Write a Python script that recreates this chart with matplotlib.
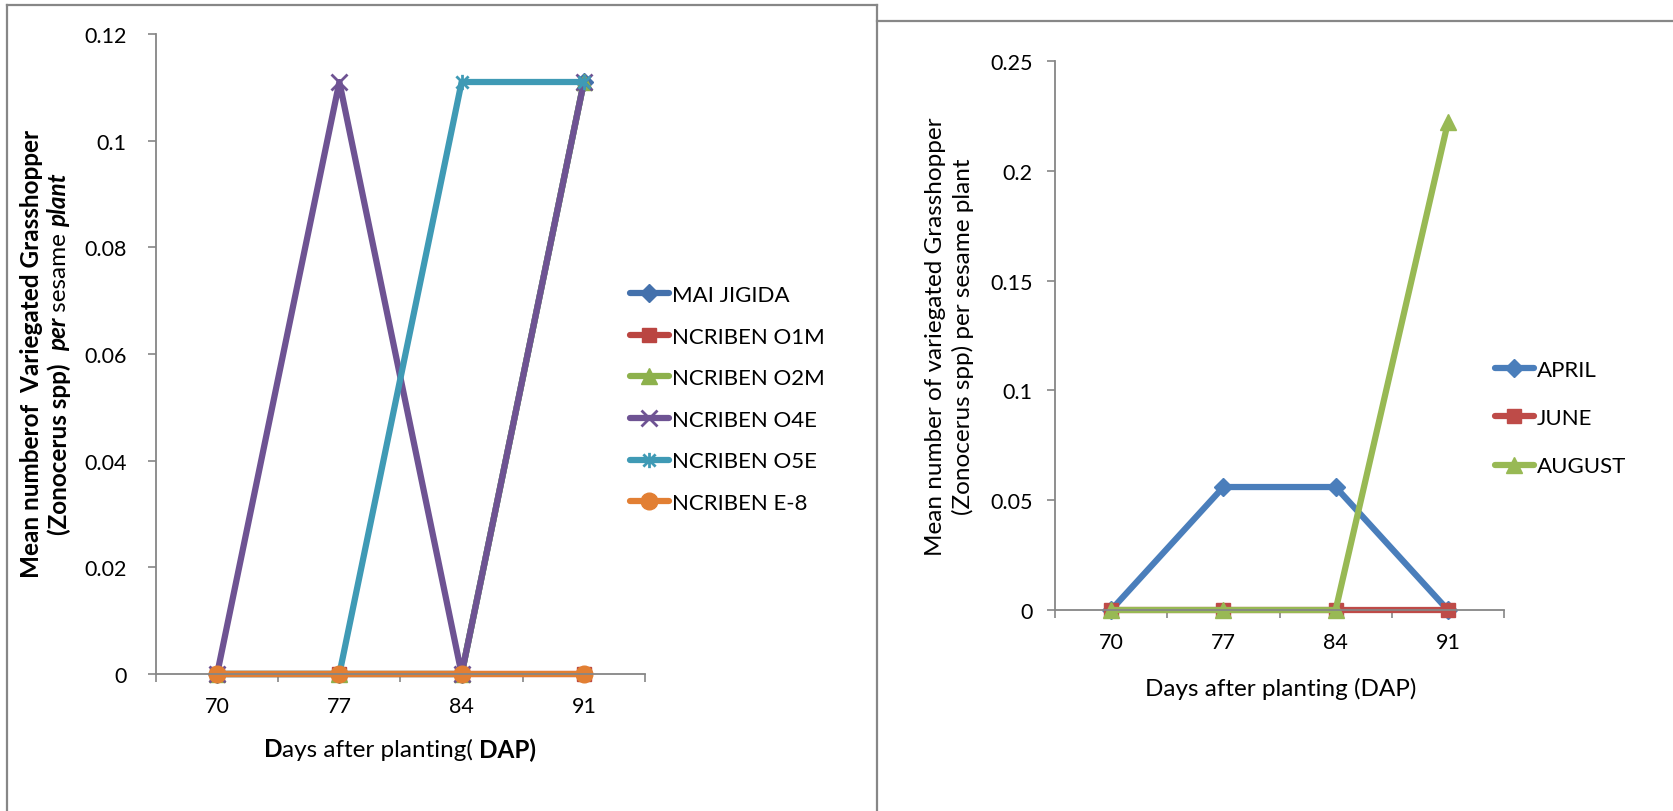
import matplotlib
matplotlib.use("Agg")
import matplotlib.pyplot as plt
from matplotlib.path import Path
from matplotlib.lines import Line2D
from matplotlib.font_manager import FontProperties

# ---- data ----
days = ["70", "77", "84", "91"]

left_names = ["MAI JIGIDA", "NCRIBEN O1M", "NCRIBEN O2M",
              "NCRIBEN O4E", "NCRIBEN O5E", "NCRIBEN E-8"]
mai_jigida = [0, 0, 0, 0.111]
ncriben_o1m = [0, 0, 0, 0]
ncriben_o2m = [0, 0, 0, 0.111]
ncriben_o4e = [0, 0.111, 0, 0.111]
ncriben_o5e = [0, 0, 0.111, 0.111]
ncriben_e8 = [0, 0, 0, 0]

right_names = ["APRIL", "JUNE", "AUGUST"]
april = [0, 0.056, 0.056, 0]
june = [0, 0, 0, 0]
august = [0, 0, 0, 0.222]

left_yticks = [0, 0.02, 0.04, 0.06, 0.08, 0.1, 0.12]
left_yticklabels = ["0", "0.02", "0.04", "0.06", "0.08", "0.1", "0.12"]
right_yticks = [0, 0.05, 0.1, 0.15, 0.2, 0.25]
right_yticklabels = ["0", "0.05", "0.1", "0.15", "0.2", "0.25"]

# ---- style ----
FONT = "Lato"
TICK_FS = 15.5
LEG_FS = 16
TITLE_FS = 17.5
plt.rcParams["font.family"] = [FONT, "DejaVu Sans"]
AXIS_GREY = "#868686"
FRAME_GREY = "#878787"

W, H = 1674, 812
fig = plt.figure(figsize=(W / 100, H / 100), dpi=100)
fig.patch.set_facecolor("white")

# asterisk marker: an X crossed by a vertical stroke
star_path = Path(
    [(-1, -1), (1, 1), (-1, 1), (1, -1), (0, -1.25), (0, 1.25)],
    [Path.MOVETO, Path.LINETO, Path.MOVETO, Path.LINETO, Path.MOVETO, Path.LINETO],
)


def px_box(x0, y0, x1, y1):
    """Figure-fraction rect from pixel box (top-left origin)."""
    return [x0 / W, 1 - y1 / H, (x1 - x0) / W, (y1 - y0) / H]


def style_axes(ax, ymax, yticks, yticklabels, ypad):
    n = len(days)
    ax.set_xlim(-0.5, n - 0.5)
    ax.set_ylim(0, ymax)
    for s in ("top", "right"):
        ax.spines[s].set_visible(False)
    for s in ("left", "bottom"):
        ax.spines[s].set_color(AXIS_GREY)
        ax.spines[s].set_linewidth(1.3)
    ax.set_yticks(yticks)
    ax.set_yticklabels(yticklabels)
    ax.tick_params(axis="y", direction="out", length=6, width=1.2,
                   color=AXIS_GREY, labelsize=TICK_FS, pad=ypad)
    # boundary ticks between categories, labels centred on categories
    ax.set_xticks([i - 0.5 for i in range(n + 1)])
    ax.set_xticklabels([""] * (n + 1))
    ax.set_xticks(range(n), minor=True)
    ax.set_xticklabels(days, minor=True)
    ax.tick_params(axis="x", which="major", direction="out", length=6,
                   width=1.2, color=AXIS_GREY)
    ax.tick_params(axis="x", which="minor", length=0, labelsize=TICK_FS, pad=16)
    ax.set_facecolor("none")


# ---- left chart ----
axL = fig.add_axes(px_box(156, 35, 645, 675))
left_series = [mai_jigida, ncriben_o1m, ncriben_o2m, ncriben_o4e, ncriben_o5e, ncriben_e8]
left_colors = ["#4471AC", "#BA4541", "#8DB14C", "#6E5393", "#3F9AB5", "#E27F33"]
left_markers = [
    dict(marker="D", markersize=9),
    dict(marker="s", markersize=10),
    dict(marker="^", markersize=11),
    dict(marker="x", markersize=11, markeredgewidth=2),
    dict(marker=star_path, markersize=11, markeredgewidth=2),
    dict(marker="o", markersize=12),
]
xs = range(len(days))
for vals, col, mk, name in zip(left_series, left_colors, left_markers, left_names):
    axL.plot(xs, vals, color=col, lw=4.5, solid_capstyle="round",
             markerfacecolor=col, markeredgecolor=col, clip_on=False,
             label=name, **mk)
style_axes(axL, 0.12, left_yticks, left_yticklabels, ypad=15)

fig.legend(*axL.get_legend_handles_labels(), loc="center left",
           bbox_to_anchor=(630 / W, 1 - 400 / H), frameon=False,
           fontsize=LEG_FS, handlelength=1.75, handletextpad=0.15,
           labelspacing=0.97, borderpad=0, borderaxespad=0)

# ---- right chart ----
axR = fig.add_axes(px_box(1055, 62, 1504, 611))
right_series = [april, june, august]
right_colors = ["#4A7EBB", "#BE4B48", "#98B954"]
right_markers = [
    dict(marker="D", markersize=9),
    dict(marker="s", markersize=10),
    dict(marker="^", markersize=11),
]
for vals, col, mk, name in zip(right_series, right_colors, right_markers, right_names):
    axR.plot(xs, vals, color=col, lw=4.5, solid_capstyle="round",
             markerfacecolor=col, markeredgecolor=col, clip_on=False,
             label=name, **mk)
style_axes(axR, 0.25, right_yticks, right_yticklabels, ypad=10)

fig.legend(*axR.get_legend_handles_labels(), loc="center left",
           bbox_to_anchor=(1495 / W, 1 - 419 / H), frameon=False,
           fontsize=LEG_FS, handlelength=1.75, handletextpad=0.15,
           labelspacing=1.28, borderpad=0, borderaxespad=0)

# ---- axis titles built from mixed-style pieces ----
renderer = fig.canvas.get_renderer()


def fp(weight="normal", style="normal", size=TITLE_FS):
    return FontProperties(family=FONT, weight=weight, style=style, size=size)


def text_width(s, prop):
    t = fig.text(0, 0, s, fontproperties=prop)
    w = t.get_window_extent(renderer).width
    t.remove()
    return w


def rich_line(pieces, cx, cy):
    """Horizontal run of (text, fontprops) pieces centred on (cx, cy) pixels."""
    widths = [text_width(s, p) for s, p in pieces]
    x = cx - sum(widths) / 2
    for (s, p), w in zip(pieces, widths):
        fig.text(x / W, 1 - cy / H, s, fontproperties=p, ha="left", va="center")
        x += w


def rich_line_vertical(pieces, cx, cy):
    """Same, rotated 90 degrees: pieces stack upward from the bottom."""
    widths = [text_width(s, p) for s, p in pieces]
    ybot = cy + sum(widths) / 2
    for (s, p), w in zip(pieces, widths):
        fig.text(cx / W, 1 - ybot / H, s, fontproperties=p, rotation=90,
                 rotation_mode="anchor", ha="left", va="center")
        ybot -= w


B = fp("bold")
R = fp()
BI = fp("bold", "italic")

# left titles
rich_line_vertical([("Mean numberof  Variegated Grasshopper", B)], 32, 354)
rich_line_vertical([("(Zonocerus spp)  ", B), ("per", BI), (" sesame ", R),
                    ("plant", BI)], 59, 354)
rich_line([("D", B), ("ays after planting( ", R), ("DAP)", B)], 400, 750)

# right titles
rich_line_vertical([("Mean number of variegated Grasshopper", R)], 936, 337)
rich_line_vertical([("(Zonocerus spp) per sesame plant", R)], 963, 337)
rich_line([("Days after planting (DAP)", R)], 1281, 689)


# ---- chart frames ----
def frame_line(x0, y0, x1, y1):
    fig.add_artist(Line2D([x0 / W, x1 / W], [1 - y0 / H, 1 - y1 / H],
                          transform=fig.transFigure, color=FRAME_GREY,
                          lw=1.6, solid_capstyle="projecting"))


frame_line(7, 6, 7, 812)
frame_line(7, 6, 877, 6)
frame_line(877, 6, 877, 812)
frame_line(877, 22, 1674, 22)

fig.savefig("out.png", dpi=100, facecolor="white")
